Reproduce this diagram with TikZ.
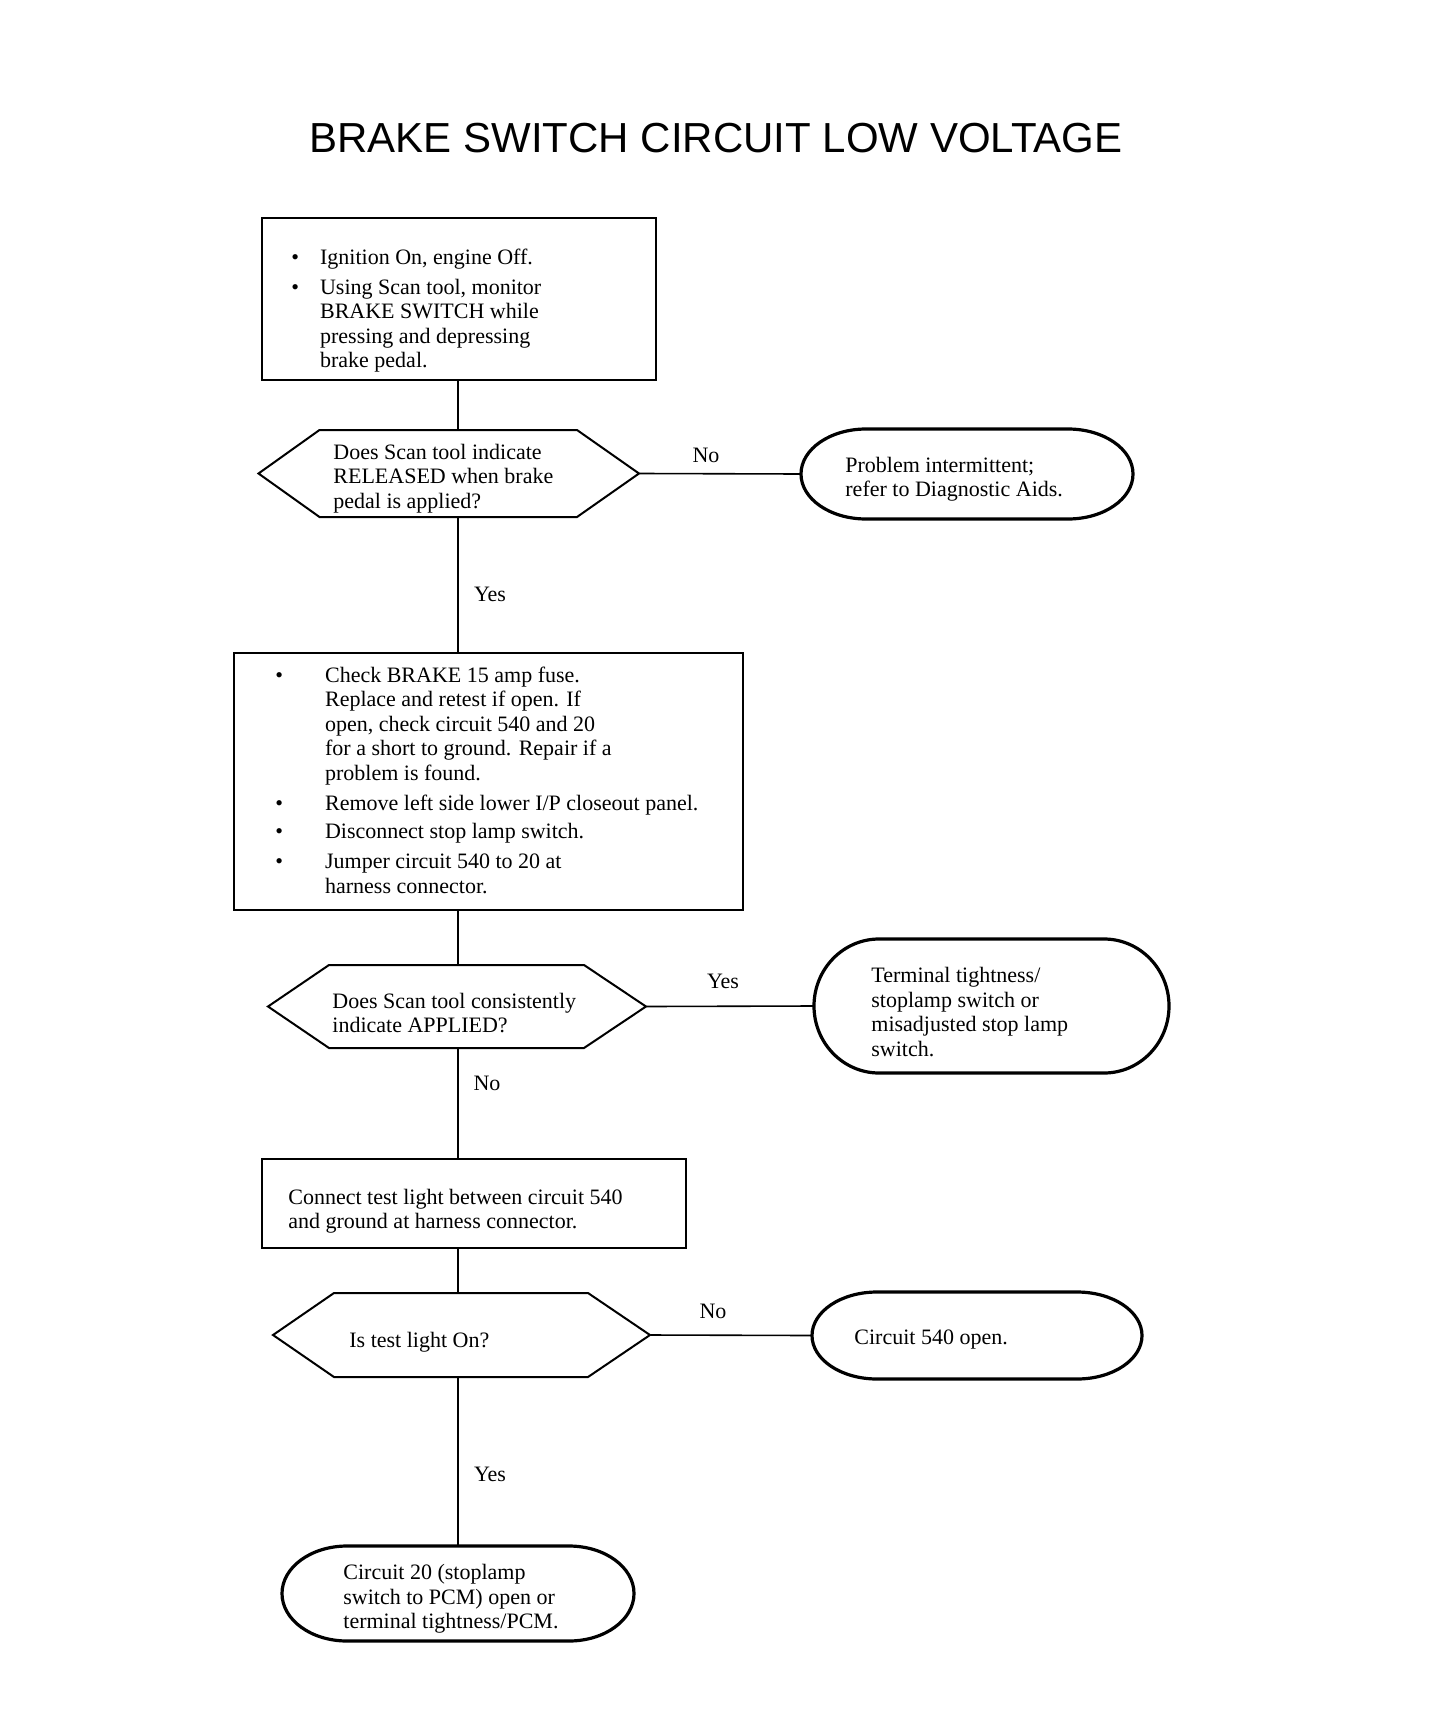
\documentclass[tikz,border=0pt]{standalone}
\usepackage{fontspec}
\setmainfont{Liberation Serif}
\newfontfamily\titlefont{Liberation Sans}
\newcommand\hexnode[5]{%
  \node[draw=none, inner sep=0pt, minimum width={(#4-#2)*0.5pt}, minimum height={(#5-#3)*0.5pt}] (#1) at ({(#2+#4)/2},{(#3+#5)/2}) {};
  \draw[hexline] (#2,{(#3+#5)/2}) -- ({#2+61},#3) -- ({#4-62},#3) -- (#4,{(#3+#5)/2}) -- ({#4-62},#5) -- ({#2+61},#5) -- cycle;}
\newcommand\termnode[5]{%
  \node[draw=none, inner sep=0pt, minimum width={(#4-#2)*0.5pt}, minimum height={(#5-#3)*0.5pt}] (#1) at ({(#2+#4)/2},{(#3+#5)/2}) {};
  \draw[termline] ({#2+65},#3) -- ({#4-65},#3) arc[start angle=-90,end angle=90,x radius=65,y radius={(#5-#3)/2}] -- ({#2+65},#5) arc[start angle=90,end angle=270,x radius=65,y radius={(#5-#3)/2}] -- cycle;}
\begin{document}
\begin{tikzpicture}[x=0.5pt,y=-0.5pt,
  txt/.style={font=\fontsize{11}{12.2}\selectfont, inner sep=0pt, align=left, anchor=west},
  lbl/.style={font=\fontsize{11}{12.2}\selectfont, inner sep=0pt},
  boxline/.style={draw, line width=1pt, inner sep=0pt},
  hexline/.style={line width=1pt, line join=miter},
  termline/.style={line width=1.6pt},
  conn/.style={line width=0.8pt}]
\useasboundingbox (0,0) rectangle (1440,1728);
\fill[white] (0,0) rectangle (1440,1728);

\node[font=\titlefont\fontsize{21}{24}\selectfont, inner sep=0pt] (title) at (716,138.5) {BRAKE SWITCH CIRCUIT LOW VOLTAGE};

% Box 1
\node[boxline, minimum width=197pt, minimum height=81pt] (b1) at (459,299) {};
\node[txt] (b1t) at (291,311) {\begin{tabular}{@{}l@{\hspace{10.5pt}}l@{}}\textbullet & Ignition On, engine Off.\\[2.8pt]
\textbullet & Using Scan tool, monitor\\ & BRAKE SWITCH while\\ & pressing and depressing\\ & brake pedal.\end{tabular}};

% Decision 1
\hexnode{d1}{258.5}{430}{639}{517}
\node[txt] (d1t) at (333,478.5) {Does Scan tool indicate\\RELEASED when brake\\pedal is applied?};

% Terminal 1
\termnode{t1}{801}{429}{1133}{519}
\node[txt] (t1t) at (845,479) {Problem intermittent;\\refer to Diagnostic Aids.};

% Box 2
\node[boxline, minimum width=254.5pt, minimum height=128.5pt] (b2) at (488.5,781.5) {};
\node[txt] (b2t) at (275,783) {\begin{tabular}{@{}l@{\hspace{21pt}}l@{}}\textbullet & Check BRAKE 15 amp fuse.\\
 & Replace and retest if open. If\\ & open, check circuit 540 and 20\\ & for a short to ground. Repair if a\\ & problem is found.\\[3.2pt]
\textbullet & Remove left side lower I/P closeout panel.\\[1.8pt]
\textbullet & Disconnect stop lamp switch.\\[2.8pt]
\textbullet & Jumper circuit 540 to 20 at\\ & harness connector.\end{tabular}};

% Decision 2
\hexnode{d2}{268}{965}{646}{1048}
\node[txt] (d2t) at (332,1013) {Does Scan tool consistently\\indicate APPLIED?};

% Terminal 2
\termnode{t2}{814}{939}{1169}{1073}
\node[txt] (t2t) at (871,1012) {Terminal tightness/\\stoplamp switch or\\misadjusted stop lamp\\switch.};

% Box 3
\node[boxline, minimum width=212pt, minimum height=44.5pt] (b3) at (474,1203.5) {};
\node[txt] (b3t) at (288,1211) {Connect test light between circuit 540\\and ground at harness connector.};

% Decision 3
\hexnode{d3}{273}{1293}{650}{1377}
\node[txt] (d3t) at (349,1342) {Is test light On?};

% Terminal 3
\termnode{t3}{812}{1292}{1142}{1379}
\node[txt] (t3t) at (854,1340) {Circuit 540 open.};

% Terminal 4
\termnode{t4}{282}{1546}{634}{1641}
\node[txt] (t4t) at (343,1599) {Circuit 20 (stoplamp\\switch to PCM) open or\\terminal tightness/PCM.};

% Connectors
\coordinate (vx) at (458,0);
\draw[conn] (b1.south -| vx) -- (d1.north -| vx);
\draw[conn] (d1.south -| vx) -- (b2.north -| vx);
\draw[conn] (b2.south -| vx) -- (d2.north -| vx);
\draw[conn] (d2.south -| vx) -- (b3.north -| vx);
\draw[conn] (b3.south -| vx) -- (d3.north -| vx);
\draw[conn] (d3.south -| vx) -- (t4.north -| vx);
\draw[conn] (d1.east) -- (t1.west);
\draw[conn] (d2.east) -- (t2.west);
\draw[conn] (d3.east) -- (t3.west);

% Labels
\node[lbl] (l1) at (706,455) {No};
\node[lbl] (l2) at (490,594) {Yes};
\node[lbl] (l3) at (723,981) {Yes};
\node[lbl] (l4) at (487,1083) {No};
\node[lbl] (l5) at (713,1311) {No};
\node[lbl] (l6) at (490,1474) {Yes};
\end{tikzpicture}
\end{document}
